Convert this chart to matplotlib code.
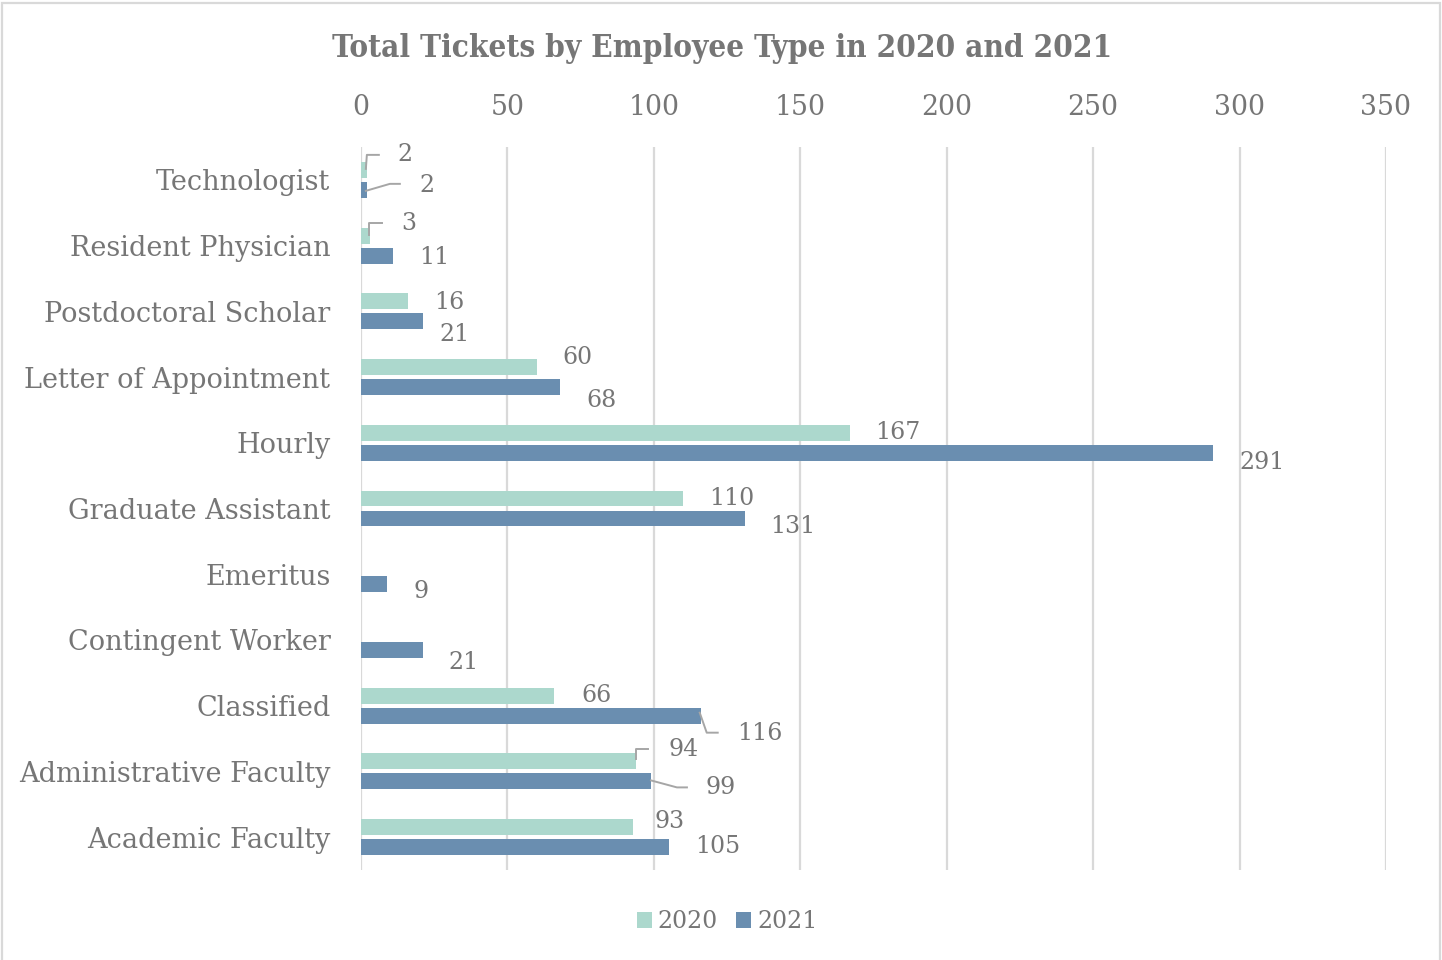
import numpy as np
import matplotlib
matplotlib.use("Agg")
import matplotlib.pyplot as plt
from matplotlib.patches import Rectangle

# ---- data ----
categories = [
    "Technologist", "Resident Physician", "Postdoctoral Scholar",
    "Letter of Appointment", "Hourly", "Graduate Assistant", "Emeritus",
    "Contingent Worker", "Classified", "Administrative Faculty",
    "Academic Faculty",
]
tickets_2020 = [2, 3, 16, 60, 167, 110, np.nan, np.nan, 66, 94, 93]
tickets_2021 = [2, 11, 21, 68, 291, 131, 9, 21, 116, 99, 105]
series_names = ["2020", "2021"]
x_ticks = [0, 50, 100, 150, 200, 250, 300, 350]

# ---- style ----
FONT = "DejaVu Serif"
TXT = "#767676"
C2020 = "#ACD8CD"
C2021 = "#6A8EB0"
GRID = "#D9D9D9"
LEADER = "#A6A6A6"

plt.rcParams["font.family"] = FONT

fig = plt.figure(figsize=(14.42, 9.60), dpi=100)
fig.patches.append(Rectangle((2 / 1442, -0.01), 1438 / 1442, 1.01 - 3 / 960,
                             transform=fig.transFigure, fill=False,
                             edgecolor=GRID, linewidth=1.6))

ax = fig.add_axes([361 / 1442, 90 / 960, 1025 / 1442, 723 / 960])

y = np.arange(len(categories))
bar_h = 0.243
off = 0.152
ax.barh(y - off, tickets_2020, height=bar_h, color=C2020, label=series_names[0], zorder=3)
ax.barh(y + off, tickets_2021, height=bar_h, color=C2021, label=series_names[1], zorder=3)

ax.set_xlim(x_ticks[0], x_ticks[-1])
ax.set_ylim(len(categories) - 0.5, -0.5)
ax.set_xticks(x_ticks)
ax.set_yticks(y)
ax.set_yticklabels(categories)
ax.xaxis.tick_top()
ax.tick_params(axis="x", length=0, pad=19, labelsize=19.3, labelcolor=TXT)
ax.tick_params(axis="y", length=0, pad=22, labelsize=19.5, labelcolor=TXT)
for s in ax.spines.values():
    s.set_visible(False)
ax.grid(axis="x", color=GRID, linewidth=1.6, zorder=0)
ax.set_axisbelow(True)

# label placement: centre offset in pixels (dx right, dy down) from the bar end
label_off = {
    (0, 0): (38, -15), (0, 1): (60, -4),
    (1, 0): (39, -12), (1, 1): (41, 2),
    (2, 0): (41, 1), (2, 1): (32, 13),
    (3, 0): (41, -10), (3, 1): (41, 13),
    (4, 0): (48, 0), (4, 1): (49, 10),
    (5, 0): (49, 0), (5, 1): (48, 8),
    (6, 1): (34, 7),
    (7, 1): (41, 13),
    (8, 0): (42, 0), (8, 1): (59, 18),
    (9, 0): (47, -12), (9, 1): (70, 6),
    (10, 0): (36, -6), (10, 1): (49, -1),
}
# leader lines as pixel offsets from the bar end
leaders = {
    (0, 0): [(-1, -1), (0, -15), (12, -15)],
    (0, 1): [(-1, 1), (23, -6), (33, -6)],
    (1, 0): [(-1, -1), (-1, -13), (12, -13)],
    (8, 1): [(-1, -3), (6, 17), (17, 17)],
    (9, 0): [(0, -2), (0, -12), (12, -12)],
    (9, 1): [(0, -1), (26, 6), (36, 6)],
}

inv = ax.transData.inverted()
for si, vals in enumerate([tickets_2020, tickets_2021]):
    for i, v in enumerate(vals):
        if np.isnan(v):
            continue
        yc = i + (off if si == 1 else -off)
        dx, dy = label_off[(i, si)]
        ax.annotate(f"{int(v)}", xy=(v, yc), xytext=(dx * 0.72, -dy * 0.72),
                    textcoords="offset points", ha="center", va="center",
                    fontsize=17, color=TXT, annotation_clip=False)
        if (i, si) in leaders:
            px, py = ax.transData.transform((v, yc))
            pts = [inv.transform((px + a, py - b)) for a, b in leaders[(i, si)]]
            xs, ys = zip(*pts)
            ax.plot(xs, ys, color=LEADER, linewidth=1.4, clip_on=False, zorder=4)

fig.text(722 / 1442, 1 - 48 / 960, "Total Tickets by Employee Type in 2020 and 2021",
         ha="center", va="center", fontsize=22.6, fontweight="bold",
         fontstretch="condensed", color=TXT)

leg = fig.legend(loc="center", bbox_to_anchor=(727 / 1442, 1 - 922 / 960),
                 ncol=2, frameon=False, fontsize=17, labelcolor=TXT,
                 handlelength=0.65, handleheight=0.65, handletextpad=0.25,
                 columnspacing=0.75)

fig.savefig("out.png", dpi=100)
